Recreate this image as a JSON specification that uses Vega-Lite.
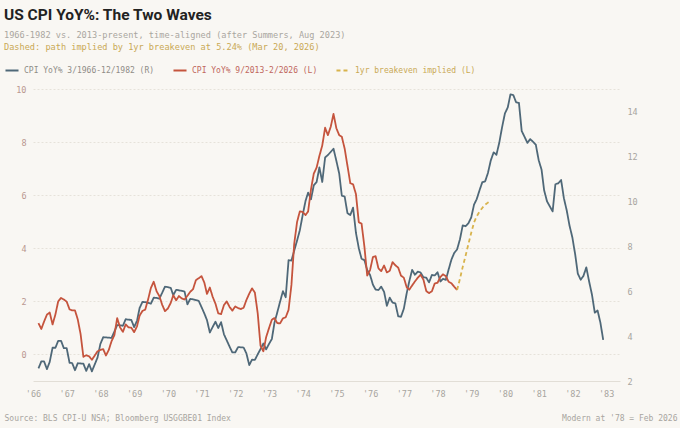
{
  "$schema": "https://vega.github.io/schema/vega-lite/v6.json",
  "width": 587,
  "height": 292,
  "autosize": {"type": "none"},
  "padding": {"left": 33, "top": 89, "right": 60, "bottom": 47},
  "background": "#f9f7f3",
  "title": {
    "text": "US CPI YoY%: The Two Waves",
    "subtitle": "1966-1982 vs. 2013-present, time-aligned (after Summers, Aug 2023)",
    "anchor": "start",
    "frame": "group",
    "dx": -29,
    "offset": 3,
    "font": "Roboto",
    "fontSize": 15.5,
    "fontWeight": "bold",
    "color": "#222222",
    "subtitleFont": "DejaVu Sans Mono",
    "subtitleFontSize": 8.6,
    "subtitleColor": "#a9a6a0",
    "subtitlePadding": 8
  },
  "config": {
    "view": {"stroke": null},
    "axis": {"labelFont": "DejaVu Sans Mono", "titleFont": "DejaVu Sans Mono", "titleFontWeight": "normal"}
  },
  "datasets": {
    "hist": [
      {"date": "1966-03-01", "series": "hist", "value": 2.56}, {"date": "1966-04-01", "series": "hist", "value": 2.87}, {"date": "1966-05-01", "series": "hist", "value": 2.87}, {"date": "1966-06-01", "series": "hist", "value": 2.53}, {"date": "1966-07-01", "series": "hist", "value": 2.85}, {"date": "1966-08-01", "series": "hist", "value": 3.48}, {"date": "1966-09-01", "series": "hist", "value": 3.48}, {"date": "1966-10-01", "series": "hist", "value": 3.79}, {"date": "1966-11-01", "series": "hist", "value": 3.79}, {"date": "1966-12-01", "series": "hist", "value": 3.46},
      {"date": "1967-01-01", "series": "hist", "value": 3.46}, {"date": "1967-02-01", "series": "hist", "value": 2.81}, {"date": "1967-03-01", "series": "hist", "value": 2.80}, {"date": "1967-04-01", "series": "hist", "value": 2.48}, {"date": "1967-05-01", "series": "hist", "value": 2.79}, {"date": "1967-06-01", "series": "hist", "value": 2.78}, {"date": "1967-07-01", "series": "hist", "value": 2.77}, {"date": "1967-08-01", "series": "hist", "value": 2.45}, {"date": "1967-09-01", "series": "hist", "value": 2.75}, {"date": "1967-10-01", "series": "hist", "value": 2.43}, {"date": "1967-11-01", "series": "hist", "value": 2.74}, {"date": "1967-12-01", "series": "hist", "value": 3.04},
      {"date": "1968-01-01", "series": "hist", "value": 3.65}, {"date": "1968-02-01", "series": "hist", "value": 3.95}, {"date": "1968-03-01", "series": "hist", "value": 3.94}, {"date": "1968-04-01", "series": "hist", "value": 3.93}, {"date": "1968-05-01", "series": "hist", "value": 3.92}, {"date": "1968-06-01", "series": "hist", "value": 4.20}, {"date": "1968-07-01", "series": "hist", "value": 4.49}, {"date": "1968-08-01", "series": "hist", "value": 4.48}, {"date": "1968-09-01", "series": "hist", "value": 4.46}, {"date": "1968-10-01", "series": "hist", "value": 4.75}, {"date": "1968-11-01", "series": "hist", "value": 4.73}, {"date": "1968-12-01", "series": "hist", "value": 4.72},
      {"date": "1969-01-01", "series": "hist", "value": 4.40}, {"date": "1969-02-01", "series": "hist", "value": 4.68}, {"date": "1969-03-01", "series": "hist", "value": 5.25}, {"date": "1969-04-01", "series": "hist", "value": 5.52}, {"date": "1969-05-01", "series": "hist", "value": 5.51}, {"date": "1969-06-01", "series": "hist", "value": 5.48}, {"date": "1969-07-01", "series": "hist", "value": 5.44}, {"date": "1969-08-01", "series": "hist", "value": 5.71}, {"date": "1969-09-01", "series": "hist", "value": 5.70}, {"date": "1969-10-01", "series": "hist", "value": 5.67}, {"date": "1969-11-01", "series": "hist", "value": 5.93}, {"date": "1969-12-01", "series": "hist", "value": 6.20},
      {"date": "1970-01-01", "series": "hist", "value": 6.18}, {"date": "1970-02-01", "series": "hist", "value": 6.15}, {"date": "1970-03-01", "series": "hist", "value": 5.82}, {"date": "1970-04-01", "series": "hist", "value": 6.06}, {"date": "1970-05-01", "series": "hist", "value": 6.04}, {"date": "1970-06-01", "series": "hist", "value": 6.01}, {"date": "1970-07-01", "series": "hist", "value": 5.98}, {"date": "1970-08-01", "series": "hist", "value": 5.41}, {"date": "1970-09-01", "series": "hist", "value": 5.66}, {"date": "1970-10-01", "series": "hist", "value": 5.63}, {"date": "1970-11-01", "series": "hist", "value": 5.60}, {"date": "1970-12-01", "series": "hist", "value": 5.57},
      {"date": "1971-01-01", "series": "hist", "value": 5.29}, {"date": "1971-02-01", "series": "hist", "value": 5.00}, {"date": "1971-03-01", "series": "hist", "value": 4.71}, {"date": "1971-04-01", "series": "hist", "value": 4.16}, {"date": "1971-05-01", "series": "hist", "value": 4.40}, {"date": "1971-06-01", "series": "hist", "value": 4.64}, {"date": "1971-07-01", "series": "hist", "value": 4.36}, {"date": "1971-08-01", "series": "hist", "value": 4.62}, {"date": "1971-09-01", "series": "hist", "value": 4.08}, {"date": "1971-10-01", "series": "hist", "value": 3.81}, {"date": "1971-11-01", "series": "hist", "value": 3.53}, {"date": "1971-12-01", "series": "hist", "value": 3.27},
      {"date": "1972-01-01", "series": "hist", "value": 3.27}, {"date": "1972-02-01", "series": "hist", "value": 3.51}, {"date": "1972-03-01", "series": "hist", "value": 3.50}, {"date": "1972-04-01", "series": "hist", "value": 3.49}, {"date": "1972-05-01", "series": "hist", "value": 3.23}, {"date": "1972-06-01", "series": "hist", "value": 2.71}, {"date": "1972-07-01", "series": "hist", "value": 2.95}, {"date": "1972-08-01", "series": "hist", "value": 2.94}, {"date": "1972-09-01", "series": "hist", "value": 3.19}, {"date": "1972-10-01", "series": "hist", "value": 3.42}, {"date": "1972-11-01", "series": "hist", "value": 3.67}, {"date": "1972-12-01", "series": "hist", "value": 3.41},
      {"date": "1973-01-01", "series": "hist", "value": 3.65}, {"date": "1973-02-01", "series": "hist", "value": 3.87}, {"date": "1973-03-01", "series": "hist", "value": 4.59}, {"date": "1973-04-01", "series": "hist", "value": 5.06}, {"date": "1973-05-01", "series": "hist", "value": 5.53}, {"date": "1973-06-01", "series": "hist", "value": 6.00}, {"date": "1973-07-01", "series": "hist", "value": 5.73}, {"date": "1973-08-01", "series": "hist", "value": 7.38}, {"date": "1973-09-01", "series": "hist", "value": 7.36}, {"date": "1973-10-01", "series": "hist", "value": 7.80}, {"date": "1973-11-01", "series": "hist", "value": 8.25}, {"date": "1973-12-01", "series": "hist", "value": 8.71},
      {"date": "1974-01-01", "series": "hist", "value": 9.39}, {"date": "1974-02-01", "series": "hist", "value": 10.02}, {"date": "1974-03-01", "series": "hist", "value": 10.39}, {"date": "1974-04-01", "series": "hist", "value": 10.09}, {"date": "1974-05-01", "series": "hist", "value": 10.71}, {"date": "1974-06-01", "series": "hist", "value": 10.86}, {"date": "1974-07-01", "series": "hist", "value": 11.51}, {"date": "1974-08-01", "series": "hist", "value": 10.86}, {"date": "1974-09-01", "series": "hist", "value": 11.95}, {"date": "1974-10-01", "series": "hist", "value": 12.06}, {"date": "1974-11-01", "series": "hist", "value": 12.20}, {"date": "1974-12-01", "series": "hist", "value": 12.34},
      {"date": "1975-01-01", "series": "hist", "value": 11.80}, {"date": "1975-02-01", "series": "hist", "value": 11.23}, {"date": "1975-03-01", "series": "hist", "value": 10.25}, {"date": "1975-04-01", "series": "hist", "value": 10.21}, {"date": "1975-05-01", "series": "hist", "value": 9.47}, {"date": "1975-06-01", "series": "hist", "value": 9.39}, {"date": "1975-07-01", "series": "hist", "value": 9.72}, {"date": "1975-08-01", "series": "hist", "value": 8.60}, {"date": "1975-09-01", "series": "hist", "value": 7.91}, {"date": "1975-10-01", "series": "hist", "value": 7.44}, {"date": "1975-11-01", "series": "hist", "value": 7.38}, {"date": "1975-12-01", "series": "hist", "value": 6.94},
      {"date": "1976-01-01", "series": "hist", "value": 6.72}, {"date": "1976-02-01", "series": "hist", "value": 6.29}, {"date": "1976-03-01", "series": "hist", "value": 6.07}, {"date": "1976-04-01", "series": "hist", "value": 6.05}, {"date": "1976-05-01", "series": "hist", "value": 6.20}, {"date": "1976-06-01", "series": "hist", "value": 5.97}, {"date": "1976-07-01", "series": "hist", "value": 5.35}, {"date": "1976-08-01", "series": "hist", "value": 5.71}, {"date": "1976-09-01", "series": "hist", "value": 5.49}, {"date": "1976-10-01", "series": "hist", "value": 5.46}, {"date": "1976-11-01", "series": "hist", "value": 4.88}, {"date": "1976-12-01", "series": "hist", "value": 4.86},
      {"date": "1977-01-01", "series": "hist", "value": 5.22}, {"date": "1977-02-01", "series": "hist", "value": 5.91}, {"date": "1977-03-01", "series": "hist", "value": 6.44}, {"date": "1977-04-01", "series": "hist", "value": 6.95}, {"date": "1977-05-01", "series": "hist", "value": 6.73}, {"date": "1977-06-01", "series": "hist", "value": 6.87}, {"date": "1977-07-01", "series": "hist", "value": 6.83}, {"date": "1977-08-01", "series": "hist", "value": 6.62}, {"date": "1977-09-01", "series": "hist", "value": 6.60}, {"date": "1977-10-01", "series": "hist", "value": 6.39}, {"date": "1977-11-01", "series": "hist", "value": 6.72}, {"date": "1977-12-01", "series": "hist", "value": 6.70},
      {"date": "1978-01-01", "series": "hist", "value": 6.84}, {"date": "1978-02-01", "series": "hist", "value": 6.43}, {"date": "1978-03-01", "series": "hist", "value": 6.55}, {"date": "1978-04-01", "series": "hist", "value": 6.50}, {"date": "1978-05-01", "series": "hist", "value": 6.96}, {"date": "1978-06-01", "series": "hist", "value": 7.41}, {"date": "1978-07-01", "series": "hist", "value": 7.70}, {"date": "1978-08-01", "series": "hist", "value": 7.86}, {"date": "1978-09-01", "series": "hist", "value": 8.31}, {"date": "1978-10-01", "series": "hist", "value": 8.93}, {"date": "1978-11-01", "series": "hist", "value": 8.89}, {"date": "1978-12-01", "series": "hist", "value": 9.02},
      {"date": "1979-01-01", "series": "hist", "value": 9.28}, {"date": "1979-02-01", "series": "hist", "value": 9.86}, {"date": "1979-03-01", "series": "hist", "value": 10.09}, {"date": "1979-04-01", "series": "hist", "value": 10.49}, {"date": "1979-05-01", "series": "hist", "value": 10.85}, {"date": "1979-06-01", "series": "hist", "value": 10.89}, {"date": "1979-07-01", "series": "hist", "value": 11.26}, {"date": "1979-08-01", "series": "hist", "value": 11.82}, {"date": "1979-09-01", "series": "hist", "value": 12.18}, {"date": "1979-10-01", "series": "hist", "value": 12.07}, {"date": "1979-11-01", "series": "hist", "value": 12.61}, {"date": "1979-12-01", "series": "hist", "value": 13.29},
      {"date": "1980-01-01", "series": "hist", "value": 13.91}, {"date": "1980-02-01", "series": "hist", "value": 14.18}, {"date": "1980-03-01", "series": "hist", "value": 14.76}, {"date": "1980-04-01", "series": "hist", "value": 14.73}, {"date": "1980-05-01", "series": "hist", "value": 14.41}, {"date": "1980-06-01", "series": "hist", "value": 14.38}, {"date": "1980-07-01", "series": "hist", "value": 13.13}, {"date": "1980-08-01", "series": "hist", "value": 12.87}, {"date": "1980-09-01", "series": "hist", "value": 12.60}, {"date": "1980-10-01", "series": "hist", "value": 12.77}, {"date": "1980-11-01", "series": "hist", "value": 12.65}, {"date": "1980-12-01", "series": "hist", "value": 12.52},
      {"date": "1981-01-01", "series": "hist", "value": 11.83}, {"date": "1981-02-01", "series": "hist", "value": 11.41}, {"date": "1981-03-01", "series": "hist", "value": 10.49}, {"date": "1981-04-01", "series": "hist", "value": 10.00}, {"date": "1981-05-01", "series": "hist", "value": 9.78}, {"date": "1981-06-01", "series": "hist", "value": 9.55}, {"date": "1981-07-01", "series": "hist", "value": 10.76}, {"date": "1981-08-01", "series": "hist", "value": 10.80}, {"date": "1981-09-01", "series": "hist", "value": 10.95}, {"date": "1981-10-01", "series": "hist", "value": 10.14}, {"date": "1981-11-01", "series": "hist", "value": 9.59}, {"date": "1981-12-01", "series": "hist", "value": 8.92},
      {"date": "1982-01-01", "series": "hist", "value": 8.39}, {"date": "1982-02-01", "series": "hist", "value": 7.62}, {"date": "1982-03-01", "series": "hist", "value": 6.78}, {"date": "1982-04-01", "series": "hist", "value": 6.51}, {"date": "1982-05-01", "series": "hist", "value": 6.68}, {"date": "1982-06-01", "series": "hist", "value": 7.06}, {"date": "1982-07-01", "series": "hist", "value": 6.44}, {"date": "1982-08-01", "series": "hist", "value": 5.85}, {"date": "1982-09-01", "series": "hist", "value": 5.04}, {"date": "1982-10-01", "series": "hist", "value": 5.14}, {"date": "1982-11-01", "series": "hist", "value": 4.59}, {"date": "1982-12-01", "series": "hist", "value": 3.83}
    ],
    "modern": [
      {"date": "1966-03-01", "series": "modern", "value": 1.18}, {"date": "1966-04-01", "series": "modern", "value": 0.96}, {"date": "1966-05-01", "series": "modern", "value": 1.24}, {"date": "1966-06-01", "series": "modern", "value": 1.50}, {"date": "1966-07-01", "series": "modern", "value": 1.58}, {"date": "1966-08-01", "series": "modern", "value": 1.13}, {"date": "1966-09-01", "series": "modern", "value": 1.51}, {"date": "1966-10-01", "series": "modern", "value": 2.00}, {"date": "1966-11-01", "series": "modern", "value": 2.13}, {"date": "1966-12-01", "series": "modern", "value": 2.07},
      {"date": "1967-01-01", "series": "modern", "value": 1.99}, {"date": "1967-02-01", "series": "modern", "value": 1.70}, {"date": "1967-03-01", "series": "modern", "value": 1.66}, {"date": "1967-04-01", "series": "modern", "value": 1.66}, {"date": "1967-05-01", "series": "modern", "value": 1.32}, {"date": "1967-06-01", "series": "modern", "value": 0.76}, {"date": "1967-07-01", "series": "modern", "value": -0.09}, {"date": "1967-08-01", "series": "modern", "value": -0.03}, {"date": "1967-09-01", "series": "modern", "value": -0.07}, {"date": "1967-10-01", "series": "modern", "value": -0.20}, {"date": "1967-11-01", "series": "modern", "value": -0.04}, {"date": "1967-12-01", "series": "modern", "value": 0.12},
      {"date": "1968-01-01", "series": "modern", "value": 0.17}, {"date": "1968-02-01", "series": "modern", "value": 0.20}, {"date": "1968-03-01", "series": "modern", "value": -0.04}, {"date": "1968-04-01", "series": "modern", "value": 0.17}, {"date": "1968-05-01", "series": "modern", "value": 0.50}, {"date": "1968-06-01", "series": "modern", "value": 0.73}, {"date": "1968-07-01", "series": "modern", "value": 1.37}, {"date": "1968-08-01", "series": "modern", "value": 1.02}, {"date": "1968-09-01", "series": "modern", "value": 0.85}, {"date": "1968-10-01", "series": "modern", "value": 1.13}, {"date": "1968-11-01", "series": "modern", "value": 1.02}, {"date": "1968-12-01", "series": "modern", "value": 1.01},
      {"date": "1969-01-01", "series": "modern", "value": 0.84}, {"date": "1969-02-01", "series": "modern", "value": 1.06}, {"date": "1969-03-01", "series": "modern", "value": 1.46}, {"date": "1969-04-01", "series": "modern", "value": 1.64}, {"date": "1969-05-01", "series": "modern", "value": 1.69}, {"date": "1969-06-01", "series": "modern", "value": 2.07}, {"date": "1969-07-01", "series": "modern", "value": 2.50}, {"date": "1969-08-01", "series": "modern", "value": 2.74}, {"date": "1969-09-01", "series": "modern", "value": 2.38}, {"date": "1969-10-01", "series": "modern", "value": 2.20}, {"date": "1969-11-01", "series": "modern", "value": 1.87}, {"date": "1969-12-01", "series": "modern", "value": 1.63},
      {"date": "1970-01-01", "series": "modern", "value": 1.73}, {"date": "1970-02-01", "series": "modern", "value": 1.94}, {"date": "1970-03-01", "series": "modern", "value": 2.23}, {"date": "1970-04-01", "series": "modern", "value": 2.04}, {"date": "1970-05-01", "series": "modern", "value": 2.20}, {"date": "1970-06-01", "series": "modern", "value": 2.11}, {"date": "1970-07-01", "series": "modern", "value": 2.07}, {"date": "1970-08-01", "series": "modern", "value": 2.21}, {"date": "1970-09-01", "series": "modern", "value": 2.36}, {"date": "1970-10-01", "series": "modern", "value": 2.46}, {"date": "1970-11-01", "series": "modern", "value": 2.80}, {"date": "1970-12-01", "series": "modern", "value": 2.87},
      {"date": "1971-01-01", "series": "modern", "value": 2.95}, {"date": "1971-02-01", "series": "modern", "value": 2.70}, {"date": "1971-03-01", "series": "modern", "value": 2.28}, {"date": "1971-04-01", "series": "modern", "value": 2.52}, {"date": "1971-05-01", "series": "modern", "value": 2.18}, {"date": "1971-06-01", "series": "modern", "value": 1.91}, {"date": "1971-07-01", "series": "modern", "value": 1.55}, {"date": "1971-08-01", "series": "modern", "value": 1.52}, {"date": "1971-09-01", "series": "modern", "value": 1.86}, {"date": "1971-10-01", "series": "modern", "value": 2.00}, {"date": "1971-11-01", "series": "modern", "value": 1.79}, {"date": "1971-12-01", "series": "modern", "value": 1.65},
      {"date": "1972-01-01", "series": "modern", "value": 1.81}, {"date": "1972-02-01", "series": "modern", "value": 1.75}, {"date": "1972-03-01", "series": "modern", "value": 1.71}, {"date": "1972-04-01", "series": "modern", "value": 1.76}, {"date": "1972-05-01", "series": "modern", "value": 2.05}, {"date": "1972-06-01", "series": "modern", "value": 2.29}, {"date": "1972-07-01", "series": "modern", "value": 2.49}, {"date": "1972-08-01", "series": "modern", "value": 2.33}, {"date": "1972-09-01", "series": "modern", "value": 1.54}, {"date": "1972-10-01", "series": "modern", "value": 0.33}, {"date": "1972-11-01", "series": "modern", "value": 0.12}, {"date": "1972-12-01", "series": "modern", "value": 0.65},
      {"date": "1973-01-01", "series": "modern", "value": 0.99}, {"date": "1973-02-01", "series": "modern", "value": 1.31}, {"date": "1973-03-01", "series": "modern", "value": 1.37}, {"date": "1973-04-01", "series": "modern", "value": 1.18}, {"date": "1973-05-01", "series": "modern", "value": 1.17}, {"date": "1973-06-01", "series": "modern", "value": 1.36}, {"date": "1973-07-01", "series": "modern", "value": 1.40}, {"date": "1973-08-01", "series": "modern", "value": 1.68}, {"date": "1973-09-01", "series": "modern", "value": 2.62}, {"date": "1973-10-01", "series": "modern", "value": 4.16}, {"date": "1973-11-01", "series": "modern", "value": 4.99}, {"date": "1973-12-01", "series": "modern", "value": 5.39},
      {"date": "1974-01-01", "series": "modern", "value": 5.37}, {"date": "1974-02-01", "series": "modern", "value": 5.25}, {"date": "1974-03-01", "series": "modern", "value": 5.39}, {"date": "1974-04-01", "series": "modern", "value": 6.22}, {"date": "1974-05-01", "series": "modern", "value": 6.81}, {"date": "1974-06-01", "series": "modern", "value": 7.04}, {"date": "1974-07-01", "series": "modern", "value": 7.48}, {"date": "1974-08-01", "series": "modern", "value": 7.87}, {"date": "1974-09-01", "series": "modern", "value": 8.54}, {"date": "1974-10-01", "series": "modern", "value": 8.26}, {"date": "1974-11-01", "series": "modern", "value": 8.58}, {"date": "1974-12-01", "series": "modern", "value": 9.06},
      {"date": "1975-01-01", "series": "modern", "value": 8.52}, {"date": "1975-02-01", "series": "modern", "value": 8.26}, {"date": "1975-03-01", "series": "modern", "value": 8.20}, {"date": "1975-04-01", "series": "modern", "value": 7.75}, {"date": "1975-05-01", "series": "modern", "value": 7.11}, {"date": "1975-06-01", "series": "modern", "value": 6.45}, {"date": "1975-07-01", "series": "modern", "value": 6.41}, {"date": "1975-08-01", "series": "modern", "value": 6.04}, {"date": "1975-09-01", "series": "modern", "value": 4.98}, {"date": "1975-10-01", "series": "modern", "value": 4.93}, {"date": "1975-11-01", "series": "modern", "value": 4.05}, {"date": "1975-12-01", "series": "modern", "value": 2.97},
      {"date": "1976-01-01", "series": "modern", "value": 3.18}, {"date": "1976-02-01", "series": "modern", "value": 3.67}, {"date": "1976-03-01", "series": "modern", "value": 3.70}, {"date": "1976-04-01", "series": "modern", "value": 3.24}, {"date": "1976-05-01", "series": "modern", "value": 3.14}, {"date": "1976-06-01", "series": "modern", "value": 3.35}, {"date": "1976-07-01", "series": "modern", "value": 3.09}, {"date": "1976-08-01", "series": "modern", "value": 3.15}, {"date": "1976-09-01", "series": "modern", "value": 3.48}, {"date": "1976-10-01", "series": "modern", "value": 3.36}, {"date": "1976-11-01", "series": "modern", "value": 3.27}, {"date": "1976-12-01", "series": "modern", "value": 2.97},
      {"date": "1977-01-01", "series": "modern", "value": 2.89}, {"date": "1977-02-01", "series": "modern", "value": 2.53}, {"date": "1977-03-01", "series": "modern", "value": 2.44}, {"date": "1977-04-01", "series": "modern", "value": 2.60}, {"date": "1977-05-01", "series": "modern", "value": 2.75}, {"date": "1977-06-01", "series": "modern", "value": 2.89}, {"date": "1977-07-01", "series": "modern", "value": 3.00}, {"date": "1977-08-01", "series": "modern", "value": 2.82}, {"date": "1977-09-01", "series": "modern", "value": 2.39}, {"date": "1977-10-01", "series": "modern", "value": 2.31}, {"date": "1977-11-01", "series": "modern", "value": 2.38}, {"date": "1977-12-01", "series": "modern", "value": 2.67},
      {"date": "1978-01-01", "series": "modern", "value": 2.70}, {"date": "1978-02-01", "series": "modern", "value": 2.92}, {"date": "1978-03-01", "series": "modern", "value": 3.02}, {"date": "1978-04-01", "series": "modern", "value": 2.95}, {"date": "1978-05-01", "series": "modern", "value": 2.74}, {"date": "1978-06-01", "series": "modern", "value": 2.68}, {"date": "1978-07-01", "series": "modern", "value": 2.55}, {"date": "1978-08-01", "series": "modern", "value": 2.43},
      {"date": "1978-08-01", "series": "breakeven", "value": 2.43}, {"date": "1978-09-01", "series": "breakeven", "value": 2.85}, {"date": "1978-10-01", "series": "breakeven", "value": 3.30}, {"date": "1978-11-01", "series": "breakeven", "value": 3.72}, {"date": "1978-12-01", "series": "breakeven", "value": 4.15}, {"date": "1979-01-01", "series": "breakeven", "value": 4.58}, {"date": "1979-02-01", "series": "breakeven", "value": 4.98}, {"date": "1979-03-01", "series": "breakeven", "value": 5.20}, {"date": "1979-04-01", "series": "breakeven", "value": 5.38}, {"date": "1979-05-01", "series": "breakeven", "value": 5.52}, {"date": "1979-06-01", "series": "breakeven", "value": 5.64}, {"date": "1979-07-01", "series": "breakeven", "value": 5.72}, {"date": "1979-08-01", "series": "breakeven", "value": 5.79}
    ]
  },
  "layer": [
    {
      "data": {"name": "hist"},
      "mark": {"type": "line", "strokeWidth": 1.8, "strokeJoin": "round"},
      "encoding": {
        "x": {
          "field": "date",
          "type": "temporal",
          "scale": {"type": "utc", "domain": [{"year": 1966, "month": 1, "date": 1, "utc": true}, {"year": 1983, "month": 6, "date": 1, "utc": true}]},
          "axis": {
            "orient": "bottom",
            "format": "'%y",
            "tickCount": {"interval": "year", "step": 1},
            "labelOverlap": false,
            "labelFlush": false,
            "labelFontSize": 8.5,
            "labelColor": "#a8a5a0",
            "labelPadding": 8,
            "ticks": false,
            "grid": false,
            "domainColor": "#e2ded6",
            "title": "Source: BLS CPI-U NSA; Bloomberg USGGBE01 Index",
            "titleFontSize": 8,
            "titleColor": "#a8a5a0",
            "titleAlign": "left",
            "titleAnchor": "start",
            "titleBaseline": "middle",
            "titleX": -29,
            "titleY": 37
          }
        },
        "y": {
          "field": "value",
          "type": "quantitative",
          "scale": {"domain": [2, 15], "nice": false},
          "axis": {
            "orient": "right",
            "values": [2, 4, 6, 8, 10, 12, 14],
            "labelFontSize": 8.5,
            "labelColor": "#a8a5a0",
            "labelPadding": 7,
            "ticks": false,
            "domain": false,
            "grid": false,
            "title": null
          }
        },
        "color": {
          "field": "series",
          "type": "nominal",
          "scale": {"domain": ["hist", "modern", "breakeven"], "range": ["#4f6878", "#c5543d", "#d8b34c"]},
          "legend": {
            "orient": "none",
            "legendX": -29,
            "legendY": -46,
            "direction": "horizontal",
            "title": "Dashed: path implied by 1yr breakeven at 5.24% (Mar 20, 2026)",
            "titleLimit": 600,
            "titleFont": "DejaVu Sans Mono",
            "titleFontSize": 8.6,
            "titleFontWeight": "normal",
            "titleColor": "#c9a955",
            "titlePadding": 11,
            "labelFont": "DejaVu Sans Mono",
            "labelFontSize": 8,
            "labelLimit": 300,
            "labelExpr": "datum.value == 'hist' ? 'CPI YoY% 3/1966-12/1982 (R)' : datum.value == 'modern' ? 'CPI YoY% 9/2013-2/2026 (L)' : '1yr breakeven implied (L)'",
            "symbolType": "stroke",
            "symbolStrokeWidth": 2,
            "symbolSize": 170,
            "columnPadding": 14,
            "labelOffset": 4,
            "encode": {"labels": {"update": {"fill": {"signal": "datum.value == 'hist' ? '#8f8c87' : datum.value == 'modern' ? '#c0665c' : '#c9a955'"}}}}
          }
        },
        "strokeDash": {
          "field": "series",
          "type": "nominal",
          "scale": {"domain": ["hist", "modern", "breakeven"], "range": [[1, 0], [1, 0], [4, 3]]},
          "legend": null
        }
      }
    },
    {
      "data": {"name": "modern"},
      "mark": {"type": "line", "strokeWidth": 1.8, "strokeJoin": "round"},
      "encoding": {
        "x": {
          "field": "date",
          "type": "temporal",
          "axis": {
            "orient": "bottom",
            "labels": false,
            "ticks": false,
            "domain": false,
            "grid": false,
            "title": "Modern at '78 = Feb 2026",
            "titleFontSize": 8,
            "titleColor": "#a8a5a0",
            "titleAlign": "right",
            "titleAnchor": "end",
            "titleBaseline": "middle",
            "titleX": 644,
            "titleY": 37
          }
        },
        "y": {
          "field": "value",
          "type": "quantitative",
          "scale": {"domain": [-1, 10], "nice": false},
          "axis": {
            "orient": "left",
            "values": [0, 2, 4, 6, 8, 10],
            "labelFontSize": 8.5,
            "labelColor": "#b99890",
            "labelPadding": 7,
            "ticks": false,
            "domain": false,
            "grid": true,
            "gridColor": "#e6e2da",
            "gridDash": [2, 2],
            "title": null
          }
        },
        "color": {"field": "series", "type": "nominal"},
        "strokeDash": {"field": "series", "type": "nominal", "legend": null}
      }
    }
  ],
  "resolve": {"scale": {"y": "independent"}, "axis": {"x": "independent", "y": "independent"}}
}
